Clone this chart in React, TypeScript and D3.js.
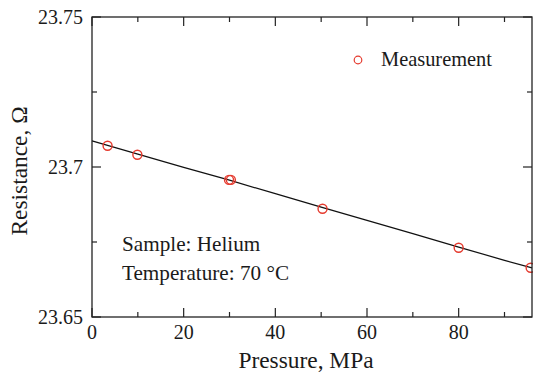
import React from "react";
import * as d3 from "d3";

const pressure = [3.4, 9.9, 29.9, 30.3, 50.3, 80, 95.7];
const resistance = [23.7071, 23.7041, 23.6957, 23.6957, 23.6861, 23.6731, 23.6664];
const fitPressure = [0, 10, 20, 30, 40, 50, 60, 70, 80, 90, 96];
const fitResistance = [23.7087, 23.7043, 23.6999, 23.6956, 23.6911, 23.6866, 23.6822, 23.6778, 23.6733, 23.6689, 23.6664];
const xMajor = [0, 20, 40, 60, 80];
const xMinor = [10, 30, 50, 70, 90];
const yMajor = [23.65, 23.7, 23.75];
const yMinor = [23.675, 23.725];
const yLabels = ["23.65", "23.7", "23.75"];

export default function App() {
  const W = 533, H = 372;
  const L = 92, R = 532, T = 17, B = 317;
  const x = d3.scaleLinear().domain([0, 96]).range([L, R]);
  const y = d3.scaleLinear().domain([23.65, 23.75]).range([B, T]);
  const line = d3.line<number>().x((_, i) => x(fitPressure[i])).y((d) => y(d));
  const font = "Liberation Serif";
  const red = "#e53a2e";
  const ink = "#1a1a1a";
  const maj = 9, mn = 5;
  const ts = { fontFamily: font };
  return (
    <svg width={W} height={H} style={{ position: "absolute", left: 0, top: 0, background: "#fff", fontFamily: font }}>
      <rect x={0} y={0} width={W} height={H} fill="#fff" />
      <path d={line(fitResistance) || ""} fill="none" stroke="#111" strokeWidth={1.2} />
      {pressure.map((p, i) => (
        <circle key={i} cx={x(p)} cy={y(resistance[i])} r={4.5} fill="none" stroke={red} strokeWidth={1.4} />
      ))}
      <rect x={L} y={T} width={R - L} height={B - T} fill="none" stroke="#222" strokeWidth={1.3} />
      {xMajor.map((v) => (
        <g key={"xM" + v}>
          <line x1={x(v)} x2={x(v)} y1={B} y2={B - maj} stroke="#222" strokeWidth={1.2} />
          <line x1={x(v)} x2={x(v)} y1={T} y2={T + maj} stroke="#222" strokeWidth={1.2} />
          <text style={ts} x={x(v)} y={339} textAnchor="middle" fontSize={20} fill={ink}>{v}</text>
        </g>
      ))}
      {xMinor.map((v) => (
        <g key={"xm" + v}>
          <line x1={x(v)} x2={x(v)} y1={B} y2={B - mn} stroke="#222" strokeWidth={1.2} />
          <line x1={x(v)} x2={x(v)} y1={T} y2={T + mn} stroke="#222" strokeWidth={1.2} />
        </g>
      ))}
      {yMajor.map((v, i) => (
        <g key={"yM" + v}>
          <line x1={L} x2={L + maj} y1={y(v)} y2={y(v)} stroke="#222" strokeWidth={1.2} />
          <line x1={R} x2={R - maj} y1={y(v)} y2={y(v)} stroke="#222" strokeWidth={1.2} />
          <text style={ts} x={83} y={y(v) + 6.5} textAnchor="end" fontSize={20} fill={ink}>{yLabels[i]}</text>
        </g>
      ))}
      {yMinor.map((v) => (
        <g key={"ym" + v}>
          <line x1={L} x2={L + mn} y1={y(v)} y2={y(v)} stroke="#222" strokeWidth={1.2} />
          <line x1={R} x2={R - mn} y1={y(v)} y2={y(v)} stroke="#222" strokeWidth={1.2} />
        </g>
      ))}
      <text style={ts} x={306} y={368} textAnchor="middle" fontSize={23.4} fill={ink}>Pressure, MPa</text>
      <text style={ts} transform={`translate(26.5,171) rotate(-90)`} textAnchor="middle" fontSize={23.4} fill={ink}>Resistance, Ω</text>
      <circle cx={358} cy={60} r={3.8} fill="none" stroke={red} strokeWidth={1.2} />
      <text style={ts} x={381} y={65.5} fontSize={20.4} fill={ink}>Measurement</text>
      <text style={ts} x={122} y={251} fontSize={21.2} fill={ink}>Sample: Helium</text>
      <text style={ts} x={122} y={279.5} fontSize={21.2} fill={ink}>Temperature: 70 °C</text>
    </svg>
  );
}
